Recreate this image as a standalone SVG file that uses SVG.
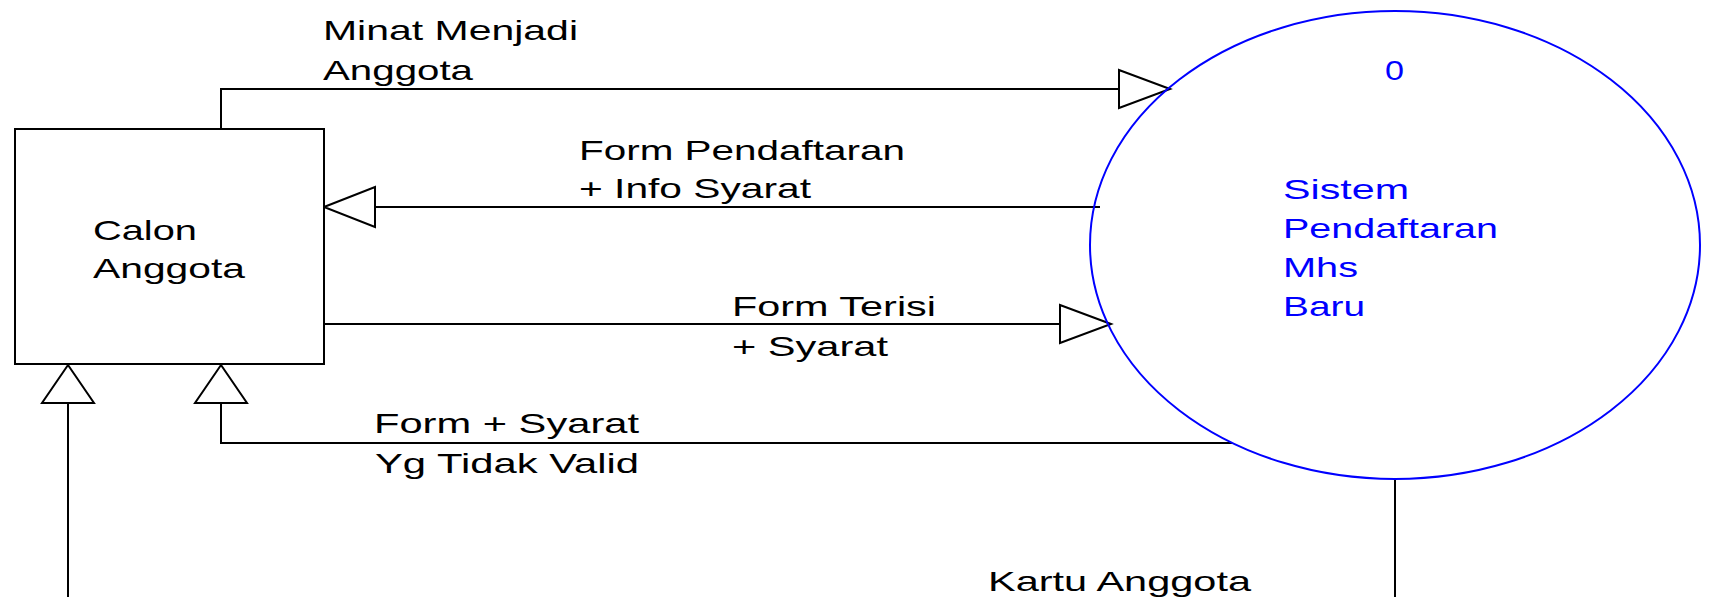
<svg xmlns="http://www.w3.org/2000/svg" xmlns:xlink="http://www.w3.org/1999/xlink" width="1709" height="597" viewBox="0 0 1709 597">
<style>
text{font-family:"Liberation Sans",Arial,sans-serif;font-size:28px;fill:#000}
.proc text{fill:#0000ff}
.line{fill:none;stroke:#000;stroke-width:2}
.arrow{fill:#fff;stroke:#000;stroke-width:2}
</style>
<defs>
<polygon id="arrR" points="0,0 -51,-19 -51,19"/>
<polygon id="arrL" points="0,0 51,-20 51,20"/>
<polygon id="arrU" points="0,0 -26,38 26,38"/>
</defs>
<rect width="1709" height="597" fill="#fff"/>
<g id="connectors">
<path class="line" d="M221,129 V89 H1119"/>
<use href="#arrR" class="arrow" x="1170" y="89"/>
<path class="line" d="M1100,207 H375"/>
<use href="#arrL" class="arrow" x="324" y="207"/>
<path class="line" d="M324,324 H1062"/>
<use href="#arrR" class="arrow" x="1111" y="324"/>
<path class="line" d="M1232,443 H221 V403"/>
<use href="#arrU" class="arrow" x="221" y="365"/>
<path class="line" d="M1395,479 V597 M68,597 V403"/>
<use href="#arrU" class="arrow" x="68" y="365"/>
<text x="323" y="40" textLength="255" lengthAdjust="spacingAndGlyphs">Minat Menjadi</text>
<text x="323" y="80" textLength="150" lengthAdjust="spacingAndGlyphs">Anggota</text>
<text x="579" y="160" textLength="326" lengthAdjust="spacingAndGlyphs">Form Pendaftaran</text>
<text x="579" y="198" textLength="232" lengthAdjust="spacingAndGlyphs">+ Info Syarat</text>
<text x="732" y="316" textLength="204" lengthAdjust="spacingAndGlyphs">Form Terisi</text>
<text x="732" y="356" textLength="156" lengthAdjust="spacingAndGlyphs">+ Syarat</text>
<text x="374" y="433" textLength="265" lengthAdjust="spacingAndGlyphs">Form + Syarat</text>
<text x="375" y="473" textLength="264" lengthAdjust="spacingAndGlyphs">Yg Tidak Valid</text>
<text x="988" y="591" textLength="263" lengthAdjust="spacingAndGlyphs">Kartu Anggota</text>
</g>
<g id="calon-anggota">
<rect x="15" y="129" width="309" height="235" fill="#fff" stroke="#000" stroke-width="2"/>
<text x="93" y="240" textLength="104" lengthAdjust="spacingAndGlyphs">Calon</text>
<text x="93" y="278" textLength="152" lengthAdjust="spacingAndGlyphs">Anggota</text>
</g>
<g id="proses-0" class="proc">
<ellipse cx="1395" cy="245" rx="305" ry="234" fill="none" stroke="#0000ff" stroke-width="2"/>
<text x="1385" y="80" textLength="19" lengthAdjust="spacingAndGlyphs">0</text>
<text x="1283" y="199" textLength="126" lengthAdjust="spacingAndGlyphs">Sistem</text>
<text x="1283" y="238" textLength="215" lengthAdjust="spacingAndGlyphs">Pendaftaran</text>
<text x="1283" y="277" textLength="75" lengthAdjust="spacingAndGlyphs">Mhs</text>
<text x="1283" y="316" textLength="82" lengthAdjust="spacingAndGlyphs">Baru</text>
</g>
</svg>
